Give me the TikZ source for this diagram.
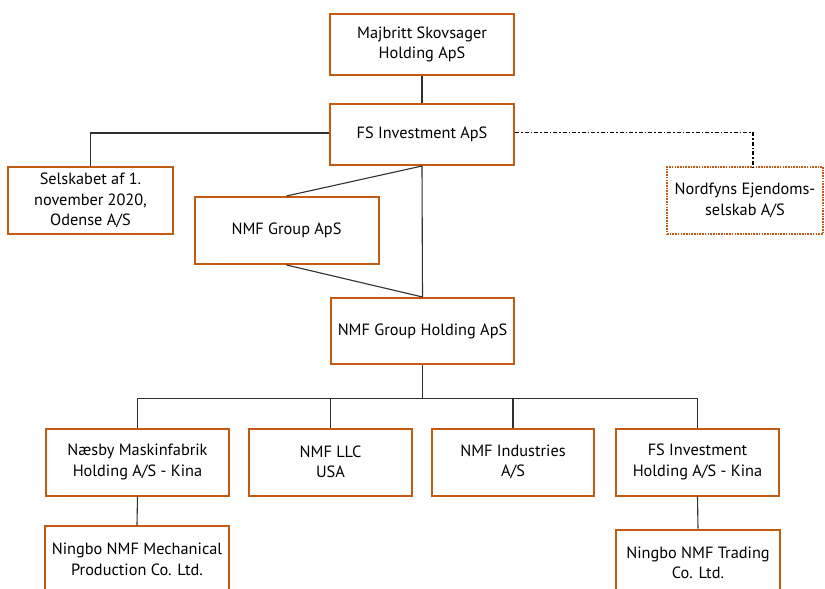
\documentclass[tikz,border=0pt]{standalone}
\usepackage{fontspec}
\setmainfont{PT Sans}
\definecolor{boxc}{HTML}{C55A11}
\definecolor{linec}{HTML}{303030}
\tikzset{
  box/.style={draw=boxc, line width=2pt, fill=white, align=center,
    font=\fontsize{16.3}{20.5}\selectfont, inner sep=0pt},
  dotbox/.style={box, dash pattern=on 1.6pt off 1.1pt, line width=2.6pt},
  conn/.style={draw=linec, line width=1.1pt},
  ddline/.style={draw=black, line width=1.5pt, dash pattern=on 4pt off 2pt on 1.5pt off 2pt}
}
\begin{document}
\begin{tikzpicture}[x=1pt,y=-1pt]
\useasboundingbox[fill=white] (0,0) rectangle (825,589);
\node[box, minimum width=184pt, minimum height=61pt] (maj) at (422,44.5) {Majbritt Skovsager\\Holding ApS};
\node[box, minimum width=184pt, minimum height=61pt] (fs) at (422,134.5) {FS Investment ApS};
\node[box, minimum width=165pt, minimum height=67pt] (sel) at (90.5,200.5) {Selskabet af 1.\\november 2020,\\Odense A/S};
\node[box, minimum width=184pt, minimum height=67pt] (grp) at (286.5,230.5) {NMF Group ApS};
\node[dotbox, minimum width=156pt, minimum height=67pt] (nord) at (745,200.5) {Nordfyns Ejendoms-\\selskab A/S};
\node[box, minimum width=183pt, minimum height=66pt] (hold) at (422.5,331) {NMF Group Holding ApS};
\node[box, minimum width=183pt, minimum height=67pt] (nae) at (137.5,462) {Næsby Maskinfabrik\\Holding A/S - Kina};
\node[box, minimum width=163pt, minimum height=67pt] (llc) at (330.5,462) {NMF LLC\\USA};
\node[box, minimum width=162pt, minimum height=67pt] (ind) at (513,462) {NMF Industries\\A/S};
\node[box, minimum width=163pt, minimum height=67pt] (fsh) at (697.5,462) {FS Investment\\Holding A/S - Kina};
\node[box, minimum width=184pt, minimum height=67pt] (nin1) at (137,559.5) {Ningbo NMF Mechanical\\Production Co. Ltd.};
\node[box, minimum width=164pt, minimum height=67pt] (nin2) at (698,563) {Ningbo NMF Trading\\Co. Ltd.};
\coordinate (nd) at (753,167);
\draw[conn] (maj.south) -- (fs.north);
\draw[conn] ([yshift=1.5pt]fs.west) -| (sel.north);
\draw[ddline] ([yshift=2pt]fs.east) -| (nd);
\draw[conn] (fs.south) -- (hold.north);
\draw[conn] (fs.south) -- (grp.north);
\draw[conn] (grp.south) -- (hold.north);
\draw[conn] (hold.south) -- ++(0,33.5) coordinate (bus);
\draw[conn] (bus) -| (nae.north);
\draw[conn] (bus) -| (llc.north);
\draw[conn] (bus) -| (ind.north);
\draw[conn] (bus) -| (fsh.north);
\draw[conn] (nae.south) -- (nin1.north);
\draw[conn] (fsh.south) -- (nin2.north);
\end{tikzpicture}
\end{document}
